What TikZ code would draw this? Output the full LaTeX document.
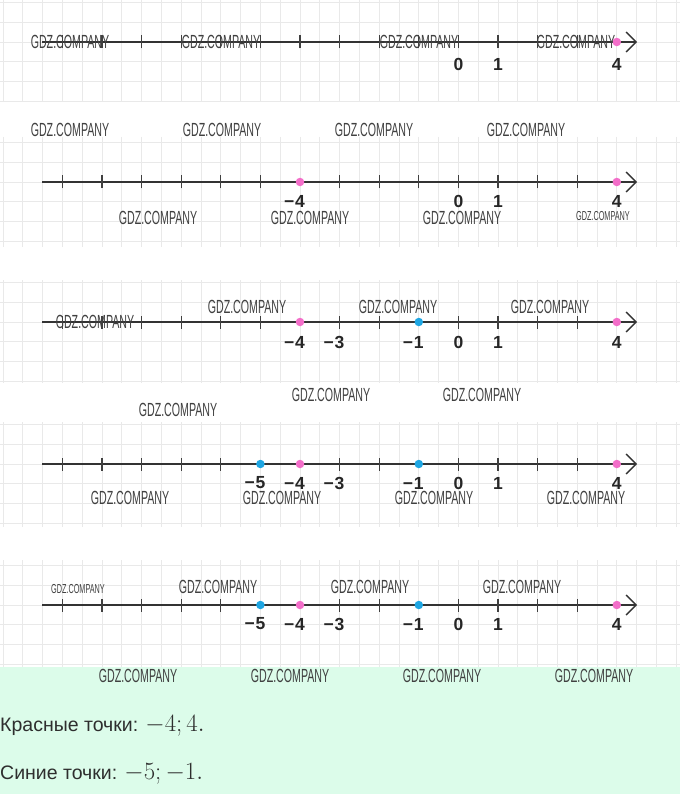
\documentclass[tikz,border=0pt]{standalone}
\usepackage[no-math]{fontspec}
\setmainfont{Liberation Sans}
\usetikzlibrary{arrows.meta, positioning, calc}

\definecolor{gridgray}{HTML}{E9E9E9}
\definecolor{dotpink}{HTML}{F36EC9}
\definecolor{dotblue}{HTML}{1EA6E3}
\definecolor{answergreen}{HTML}{DCFCEA}
\definecolor{wmgray}{HTML}{404040}

\begin{document}
\begin{tikzpicture}[x=1pt, y=-1pt,
    axisline/.style={line width=1.4pt, draw=black!80, -{Straight Barb[length=10pt, width=20pt, line width=1.4pt]}},
    tickmark/.style={line width=1.3pt, draw=black!75},
    numlabel/.style={font=\fontsize{17.5}{17.5}\selectfont\bfseries, text=black!85, inner sep=0pt},
    wmark/.style={font=\fontsize{19}{19}\selectfont, text=wmgray, xscale=0.56, inner sep=0pt},
    wmsmall/.style={font=\fontsize{13}{13}\selectfont, text=wmgray, xscale=0.56, inner sep=0pt},
    numdot/.style={circle, inner sep=0pt, minimum size=8.5pt},
    answer/.style={font=\fontsize{19.5}{19.5}\selectfont, text=black!82, anchor=west, inner sep=0pt}]
  \useasboundingbox (0,0) rectangle (680,794);
  \fill[white] (0,0) rectangle (680,794);
  \fill[answergreen] (0,667) rectangle (680,794);

  % five number lines: panel / line y / label y / top / bottom / ticks / dots / labels
  \foreach \p/\ly/\lly/\top/\bot/\ticks/\dots/\labs in {
      1/42/64/0/102/{-10,...,3}/{4/dotpink}/{0,1,4},
      2/182/201/137/247/{-10,-9,-8,-7,-6,-5,-3,-2,-1,0,1,2,3}/{-4/dotpink,4/dotpink}/{-4,0,1,4},
      3/322/342/280/383/{-10,-9,-8,-7,-6,-5,-3,-2,0,1,2,3}/{-4/dotpink,-1/dotblue,4/dotpink}/{-4,-3,-1,0,1,4},
      4/464/483/422/527/{-10,-9,-8,-7,-6,-3,-2,0,1,2,3}/{-5/dotblue,-4/dotpink,-1/dotblue,4/dotpink}/{-5,-4,-3,-1,0,1,4},
      5/605/624/560/667/{-10,-9,-8,-7,-6,-3,-2,0,1,2,3}/{-5/dotblue,-4/dotpink,-1/dotblue,4/dotpink}/{-5,-4,-3,-1,0,1,4}} {
    \begin{scope}
      \clip (0,\top) rectangle (680,\bot);
      \foreach \k in {-23,...,11}
        \draw[gridgray, line width=0.8pt] ({458.4+19.8*\k},\top) -- ({458.4+19.8*\k},\bot);
      \foreach \k in {-3,...,4}
        \draw[gridgray, line width=0.8pt] (0,{\ly+19.8*\k}) -- (680,{\ly+19.8*\k});
    \end{scope}
    \coordinate (start\p) at (42,\ly);
    \coordinate (end\p) at (637,\ly);
    \draw[axisline] (start\p) -- (end\p);
    \foreach \t in \ticks
      \draw[tickmark] ({458.4+39.6*\t},{\ly+6.5}) -- ++(0,-13);
    \foreach \n/\c in \dots
      \node[numdot, fill=\c] (dot\p\n) at ({458.4+39.6*\n},\ly) {};
    \foreach \n in \labs
      \node[numlabel] (lab\p\n) at ({458.4+39.6*\n},\lly) {\ifnum\n<0 \llap{−\kern0.8pt}\number-\n\else\n\fi};
  }

  % watermarks
  \foreach \wx/\wy [count=\i] in {70/42, 221/42, 419/42, 576/42,
      70/130, 222/130, 374/130, 526/130,
      158/218, 310/218, 462/218,
      247/307, 398/307, 550/307, 95/322,
      331/395, 482/395, 178/410,
      130/498, 282/498, 434/498, 586/498,
      218/587, 370/587, 522/587,
      138/676, 290/676, 442/676, 594/676}
    \node[wmark] (wm\i) at (\wx,\wy) {GDZ.COMPANY};
  \node[wmsmall] (wmsmall1) at (603,216) {GDZ.COMPANY};
  \node[wmsmall] (wmsmall2) at (78,589) {GDZ.COMPANY};

  % answer
  \node[answer] (redpts) at (0,726) {Красные точки: {\fontsize{23}{23}\selectfont$-4; 4.$}};
  \node[answer] (bluepts) at (0,774) {Синие точки: {\fontsize{23}{23}\selectfont$-5; -1.$}};
\end{tikzpicture}
\end{document}
